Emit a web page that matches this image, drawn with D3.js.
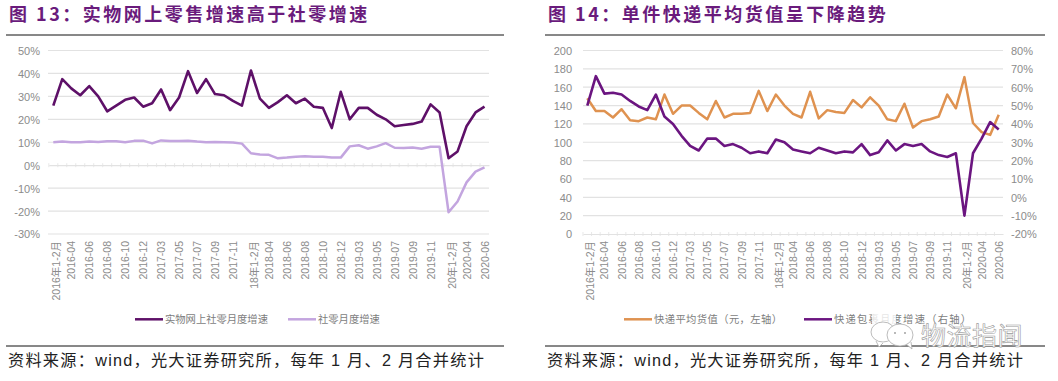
<!DOCTYPE html>
<html><head><meta charset="utf-8">
<script src="https://cdnjs.cloudflare.com/ajax/libs/d3/7.8.5/d3.min.js"></script>
<style>
html,body{margin:0;padding:0;background:#fff}
svg{display:block}
text{font-family:"Liberation Sans","Noto Sans CJK SC",sans-serif;font-feature-settings:"chws" 0,"halt" 0,"palt" 0;font-kerning:none}
.cjk{font-family:"Noto Sans CJK SC",sans-serif}
</style></head><body><svg id="c" width="1058" height="381"></svg>
<script>
const categories=["2016年1-2月","2016-03","2016-04","2016-05","2016-06","2016-07","2016-08","2016-09","2016-10","2016-11","2016-12","2017-1-2","2017-03","2017-04","2017-05","2017-06","2017-07","2017-08","2017-09","2017-10","2017-11","2017-12","18年1-2月","2018-03","2018-04","2018-05","2018-06","2018-07","2018-08","2018-09","2018-10","2018-11","2018-12","2019-1-2","2019-03","2019-04","2019-05","2019-06","2019-07","2019-08","2019-09","2019-10","2019-11","2019-12","20年1-2月","2020-03","2020-04","2020-05","2020-06"];
const tickLabels=categories.filter((d,i)=>i%2===0);
const onlineRetail=[26,37.5,33.5,30.5,34.5,30,23.5,26,28.5,29.5,25.5,27,33,24,29.5,41,31.5,37.5,31,30.5,28,26,41.3,29,25,27.5,30.5,27,29,25.5,25,16.2,32,20,25,25,22,20,17,17.5,18,19,26.5,23,3,6,17,23,25.5];
const totalRetail=[10,10.3,10,10,10.3,10.1,10.4,10.4,10,10.6,10.7,9.5,10.8,10.5,10.5,10.7,10.3,10,10.1,10,9.9,9.4,5.2,4.7,4.5,3,3.3,3.7,3.9,3.7,3.7,3.3,3.3,8.2,8.7,7.2,8.2,9.6,7.6,7.5,7.7,7.2,8,8,-20.5,-15.8,-7.5,-2.8,-1];
const parcelValue=[148,134,134,127,136,124,123,127,125,152,131,140,140,132,125,145,127,131,131,132,156,134,152,140,131,127,155,126,135,133,132,146,138,149,140,125,123,142,116,123,125,128,152,137,171,121,111,108,130];
const parcelGrowth=[50,66,56.5,57,56,52.5,49.5,47.5,56,44,40,33.5,28,25.5,32,32,28,29,27,24,25,24,31.5,30,26,25,24,27,25.5,24,25,24.5,29,23,24.5,31,25.5,29,28,29,25,23,22,24,-10,24,32,41,37];
const titleA="图 13：实物网上零售增速高于社零增速";
const titleB="图 14：单件快递平均货值呈下降趋势";
const sourceText="资料来源：wind，光大证券研究所，每年 1 月、2 月合并统计";
const legendA=["实物网上社零月度增速","社零月度增速"];
const legendB=["快递平均货值（元，左轴）","快递包裹月度增速（右轴）"];
const watermark="物流指闻";
const C={dark:"#5e1068",light:"#c3a5df",orange:"#df9250",purple:"#6b1580",title:"#6a1b7c",grid:"#e2e2e2",text:"#8b8b8b"};
const svg=d3.select("#c");
function header(x0,x1,title,tx,src,sx){
  svg.append("text").attr("class","cjk").attr("x",tx).attr("y",21).attr("font-size",18).attr("font-weight",700).attr("fill",C.title).attr("letter-spacing",2.5).attr("xml:space","preserve").text(title);
  svg.append("line").attr("x1",x0).attr("x2",x1).attr("y1",35).attr("y2",35).attr("stroke","#111").attr("stroke-width",1);
  svg.append("line").attr("x1",x0).attr("x2",x1).attr("y1",346).attr("y2",346).attr("stroke","#111").attr("stroke-width",1);
  svg.append("text").attr("x",sx).attr("y",366).attr("font-size",16.2).attr("fill","#222").attr("letter-spacing",1.25).attr("xml:space","preserve").text(src);
}
function xLabels(x,y){
  const ax=d3.axisBottom(x).tickValues(tickLabels).tickSize(0).tickFormat(d=>d);
  const g=svg.append("g").attr("transform",`translate(0,${y})`).call(ax);
  g.select(".domain").remove();
  g.selectAll("text").attr("font-size",10.5).attr("fill",C.text).attr("font-family",null)
    .attr("y",0).attr("dy",null).attr("text-anchor","end").attr("dominant-baseline","central")
    .attr("transform",d=>`translate(${/年/.test(d)?3:0},0) rotate(-90)`);
}
function minorTicks(x,y){
  const a=d3.axisBottom(x).tickValues(categories).tickSize(0).tickFormat("");
  const g=svg.append("g").attr("transform",`translate(0,${y})`).call(a);
  g.select(".domain").attr("stroke",C.grid).attr("stroke-width",1.2);
  const step=x.step();
  g.selectAll(".tick line").attr("x1",-step/2).attr("x2",-step/2).attr("y1",-2).attr("y2",2).attr("stroke",C.grid).attr("stroke-width",1).attr("opacity",.8);
}
function yAxis(sc,vals,fmt,pos,labelX,anchor){
  const a=d3.axisLeft(sc).tickValues(vals).tickFormat(fmt).tickSize(0);
  const g=svg.append("g").attr("transform",`translate(${pos},0)`).call(a);
  g.select(".domain").remove();
  g.selectAll("text").attr("font-size",11).attr("fill",C.text).attr("text-anchor",anchor).attr("x",labelX-pos).attr("dy","0.36em");
}
function grid(sc,vals,x0,x1,skip){
  svg.append("g").selectAll("line").data(vals.filter(v=>v!==skip)).join("line").attr("x1",x0).attr("x2",x1)
    .attr("y1",d=>sc(d)).attr("y2",d=>sc(d)).attr("stroke",C.grid).attr("stroke-width",1.2);
}
function series(x,sc,vals,color,w){
  const l=d3.line().x((d,i)=>x(categories[i])+x.bandwidth()/2).y(d=>sc(d));
  svg.append("path").datum(vals).attr("d",l).attr("fill","none").attr("stroke",color).attr("stroke-width",w).attr("stroke-linejoin","round");
}
function legend(items){
  items.forEach(it=>{
    svg.append("line").attr("x1",it.x).attr("x2",it.x+28).attr("y1",319.3).attr("y2",319.3).attr("stroke",it.color).attr("stroke-width",2.5);
    const t=svg.append("text").attr("x",it.x+30).attr("y",323).attr("font-size",10.3).attr("fill","#7d7d7d").text(it.t);
    if(it.len) t.attr("textLength",it.len).attr("lengthAdjust","spacing");
  });
}
// left chart
header(6,504,titleA,9,sourceText,8);
const xA=d3.scaleBand().domain(categories).range([48.8,489]);
const yA=d3.scaleLinear().domain([-30,50]).range([234,50.5]);
const vA=d3.range(-30,51,10);
grid(yA,vA,48,489,0);
minorTicks(xA,yA(0));
yAxis(yA,vA,d=>d+"%",48,40,"end");
xLabels(xA,241);
series(xA,yA,totalRetail,C.light,2.5);
series(xA,yA,onlineRetail,C.dark,2.6);
legend([{x:135,color:C.dark,t:legendA[0]},{x:288,color:C.light,t:legendA[1]}]);
// right chart
header(545,1045,titleB,548,sourceText,547);
const xB=d3.scaleBand().domain(categories).range([583,1003]);
const yB=d3.scaleLinear().domain([0,200]).range([234,50.5]);
const yB2=d3.scaleLinear().domain([-20,80]).range([234,50.5]);
const vB=d3.range(0,201,20), vB2=d3.range(-20,81,10);
grid(yB,vB,583,1003,0);
minorTicks(xB,yB(0));
yAxis(yB,vB,d=>d,583,572,"end");
yAxis(yB2,vB2,d=>d+"%",1003,1011,"start");
xLabels(xB,241);
series(xB,yB,parcelValue,C.orange,2.5);
series(xB,yB2,parcelGrowth,C.purple,2.6);
legend([{x:624,color:C.orange,t:legendB[0],len:128},{x:804,color:C.purple,t:legendB[1],len:137}]);
// watermark
const wm=svg.append("g");
wm.append("rect").attr("x",872).attr("y",313).attr("width",24).attr("height",12).attr("fill","#fff").attr("opacity",.8);
wm.append("path").attr("d","M876 341l3 6 4-4").attr("fill","#fff").attr("stroke","#aaa").attr("stroke-width",.8);
wm.append("ellipse").attr("cx",883).attr("cy",332).attr("rx",12).attr("ry",10).attr("fill","#fff").attr("stroke","#aaa").attr("stroke-width",.8);
wm.append("path").attr("d","M906 344l6 5-1-7").attr("fill","#fff").attr("stroke","#aaa").attr("stroke-width",.8);
wm.append("ellipse").attr("cx",900).attr("cy",335).attr("rx",13).attr("ry",11).attr("fill","#fff").attr("stroke","#aaa").attr("stroke-width",.8);
[[895,333],[905,333]].forEach(p=>wm.append("circle").attr("cx",p[0]).attr("cy",p[1]).attr("r",.9).attr("fill","#999"));
wm.append("text").attr("class","cjk").attr("x",921).attr("y",345).attr("font-size",25).attr("fill","#fff").attr("stroke","#999").attr("stroke-width",.6).attr("letter-spacing",.5).text(watermark);
</script></body></html>
